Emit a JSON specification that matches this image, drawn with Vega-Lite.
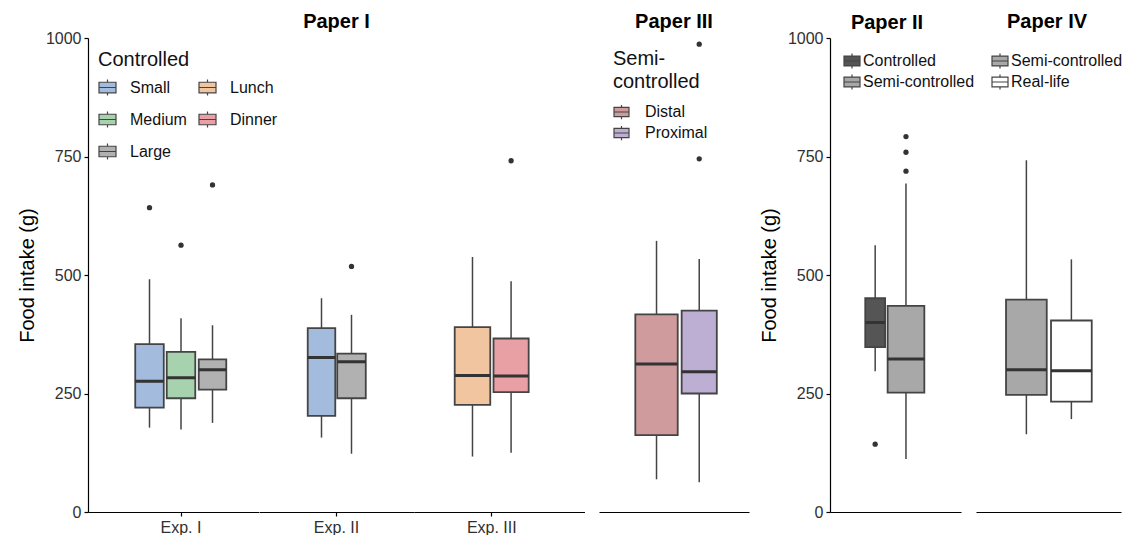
{
  "$schema": "https://vega.github.io/schema/vega-lite/v6.json",
  "padding": {"left": 17, "top": 12, "right": 0, "bottom": 0},
  "background": "white",
  "config": {
    "font": "Liberation Sans",
    "view": {"stroke": null},
    "axis": {"grid": false, "domainColor": "#000", "domainWidth": 1.2, "tickColor": "#000", "tickWidth": 1.2, "tickSize": 4, "labelFontSize": 16, "labelColor": "#303030", "labelAngle": 0, "titleFontSize": 20, "titleFontWeight": "normal", "titleColor": "#000", "labelPadding": 3},
    "legend": {"padding": 0, "labelFontSize": 16, "labelColor": "#111", "titleFontSize": 20, "titleFontWeight": "normal", "titleColor": "#111", "symbolStrokeColor": "#444", "symbolStrokeWidth": 1.2, "symbolType": "M-1,-0.62H1V0.62H-1Z M-1,0H1 M0,-0.62V-0.95 M0,0.62V0.95"},
    "title": {"fontSize": 20, "fontWeight": "bold", "color": "#000", "baseline": "alphabetic", "offset": 6, "anchor": "middle", "frame": "group"}
  },
  "datasets": {
    "boxes": [
      {"paper": "Paper I", "exp": "Exp. I", "group": "Small", "n": 29, "lower": 178, "q1": 220, "median": 276, "q3": 354, "upper": 491},
      {"paper": "Paper I", "exp": "Exp. I", "group": "Medium", "n": 29, "lower": 174, "q1": 240, "median": 283, "q3": 338, "upper": 409},
      {"paper": "Paper I", "exp": "Exp. I", "group": "Large", "n": 27, "lower": 188, "q1": 258, "median": 300, "q3": 322, "upper": 394},
      {"paper": "Paper I", "exp": "Exp. II", "group": "Small", "n": 27, "lower": 157, "q1": 203, "median": 326, "q3": 388, "upper": 451},
      {"paper": "Paper I", "exp": "Exp. II", "group": "Large", "n": 29, "lower": 123, "q1": 240, "median": 317, "q3": 334, "upper": 416},
      {"paper": "Paper I", "exp": "Exp. III", "group": "Lunch", "n": 45, "lower": 117, "q1": 226, "median": 288, "q3": 390, "upper": 538},
      {"paper": "Paper I", "exp": "Exp. III", "group": "Dinner", "n": 44, "lower": 125, "q1": 253, "median": 287, "q3": 366, "upper": 487},
      {"paper": "Paper III", "exp": "", "group": "Distal", "n": 64, "lower": 69, "q1": 162, "median": 312, "q3": 417, "upper": 572},
      {"paper": "Paper III", "exp": "", "group": "Proximal", "n": 44, "lower": 63, "q1": 250, "median": 296, "q3": 425, "upper": 534},
      {"paper": "Paper II", "exp": "", "group": "Controlled", "n": 14, "lower": 297, "q1": 348, "median": 400, "q3": 451, "upper": 563},
      {"paper": "Paper II", "exp": "", "group": "Semi-controlled", "n": 48, "lower": 112, "q1": 252, "median": 323, "q3": 435, "upper": 693},
      {"paper": "Paper IV", "exp": "", "group": "Semi-controlled", "n": 59, "lower": 164, "q1": 247, "median": 300, "q3": 448, "upper": 742},
      {"paper": "Paper IV", "exp": "", "group": "Real-life", "n": 59, "lower": 196, "q1": 233, "median": 298, "q3": 404, "upper": 533}
    ],
    "outliers": [
      {"paper": "Paper I", "exp": "Exp. I", "group": "Small", "value": 642},
      {"paper": "Paper I", "exp": "Exp. I", "group": "Medium", "value": 563},
      {"paper": "Paper I", "exp": "Exp. I", "group": "Large", "value": 690},
      {"paper": "Paper I", "exp": "Exp. II", "group": "Large", "value": 518},
      {"paper": "Paper I", "exp": "Exp. III", "group": "Dinner", "value": 741},
      {"paper": "Paper III", "exp": "", "group": "Proximal", "value": 745},
      {"paper": "Paper III", "exp": "", "group": "Proximal", "value": 987},
      {"paper": "Paper II", "exp": "", "group": "Controlled", "value": 143},
      {"paper": "Paper II", "exp": "", "group": "Semi-controlled", "value": 719},
      {"paper": "Paper II", "exp": "", "group": "Semi-controlled", "value": 759},
      {"paper": "Paper II", "exp": "", "group": "Semi-controlled", "value": 792}
    ]
  },
  "hconcat": [
    {
      "width": 170.5, "height": 474,
      "layer": [
        {"data": {"name": "boxes"}, "transform": [{"filter": "datum.exp === 'Exp. I'"}],
         "mark": {"type": "rule", "stroke": "#444", "strokeWidth": 1.5},
         "encoding": {
           "x": {"field": "exp", "type": "nominal", "title": null, "scale": {"domain": ["Exp. I"], "paddingInner": 0, "paddingOuter": 0.402, "align": 0.602}},
           "xOffset": {"field": "group", "type": "nominal", "scale": {"domain": ["Small", "Medium", "Large"], "paddingInner": 0, "paddingOuter": 0}},
           "y": {"field": "lower", "type": "quantitative", "title": "Food intake (g)", "scale": {"domain": [0, 1000], "nice": false}, "axis": {"values": [0, 250, 500, 750, 1000], "format": "d", "titlePadding": 8}},
           "y2": {"field": "upper"}}},
        {"data": {"name": "boxes"}, "transform": [{"filter": "datum.exp === 'Exp. I'"}],
         "mark": {"type": "bar", "stroke": "#444", "strokeWidth": 1.8},
         "encoding": {
           "x": {"field": "exp", "type": "nominal"},
           "xOffset": {"field": "group", "type": "nominal"},
           "y": {"field": "q1", "type": "quantitative", "title": "Food intake (g)"},
           "y2": {"field": "q3"},
           "size": {"field": "n", "type": "quantitative", "scale": {"type": "sqrt", "domain": [0, 64], "range": [0, 42.4]}, "legend": null},
           "fill": {"field": "group", "type": "nominal", "scale": {"domain": ["Small", "Medium", "Large", "Lunch", "Dinner"], "range": ["#a3bbdd", "#a6d3ae", "#b1b1b1", "#f0c5a0", "#e8a0a4"]},
             "legend": {"title": "Controlled", "orient": "none", "legendX": 10, "legendY": 12, "columns": 2, "columnPadding": 9, "rowPadding": 11, "symbolSize": 289, "labelOffset": 13, "titlePadding": 8}}}},
        {"data": {"name": "boxes"}, "transform": [{"filter": "datum.exp === 'Exp. I'"}],
         "mark": {"type": "bar", "stroke": "#333", "strokeWidth": 3, "fill": "#333"},
         "encoding": {
           "x": {"field": "exp", "type": "nominal"},
           "xOffset": {"field": "group", "type": "nominal"},
           "y": {"field": "median", "type": "quantitative", "title": "Food intake (g)"},
           "y2": {"field": "median"},
           "size": {"field": "n", "type": "quantitative"}}},
        {"data": {"name": "outliers"}, "transform": [{"filter": "datum.exp === 'Exp. I'"}],
         "mark": {"type": "point", "filled": true, "color": "#333", "size": 28, "opacity": 1},
         "encoding": {
           "x": {"field": "exp", "type": "nominal"},
           "xOffset": {"field": "group", "type": "nominal"},
           "y": {"field": "value", "type": "quantitative", "title": "Food intake (g)"}}}
      ]
    },
    {
      "width": 155, "height": 474,
      "title": {"text": "Paper I"},
      "layer": [
        {"data": {"name": "boxes"}, "transform": [{"filter": "datum.exp === 'Exp. II'"}],
         "mark": {"type": "rule", "stroke": "#444", "strokeWidth": 1.5},
         "encoding": {
           "x": {"field": "exp", "type": "nominal", "title": null, "scale": {"domain": ["Exp. II"], "paddingInner": 0, "paddingOuter": 0.7917, "align": 0.5}},
           "xOffset": {"field": "group", "type": "nominal", "scale": {"domain": ["Small", "Large"], "paddingInner": 0, "paddingOuter": 0}},
           "y": {"field": "lower", "type": "quantitative", "scale": {"domain": [0, 1000], "nice": false}, "axis": null},
           "y2": {"field": "upper"}}},
        {"data": {"name": "boxes"}, "transform": [{"filter": "datum.exp === 'Exp. II'"}],
         "mark": {"type": "bar", "stroke": "#444", "strokeWidth": 1.8},
         "encoding": {
           "x": {"field": "exp", "type": "nominal"},
           "xOffset": {"field": "group", "type": "nominal"},
           "y": {"field": "q1", "type": "quantitative", "axis": null},
           "y2": {"field": "q3"},
           "size": {"field": "n", "type": "quantitative", "legend": null},
           "fill": {"field": "group", "type": "nominal", "scale": {"domain": ["Small", "Medium", "Large", "Lunch", "Dinner"], "range": ["#a3bbdd", "#a6d3ae", "#b1b1b1", "#f0c5a0", "#e8a0a4"]}, "legend": null}}},
        {"data": {"name": "boxes"}, "transform": [{"filter": "datum.exp === 'Exp. II'"}],
         "mark": {"type": "bar", "stroke": "#333", "strokeWidth": 3, "fill": "#333"},
         "encoding": {
           "x": {"field": "exp", "type": "nominal"},
           "xOffset": {"field": "group", "type": "nominal"},
           "y": {"field": "median", "type": "quantitative", "axis": null},
           "y2": {"field": "median"},
           "size": {"field": "n", "type": "quantitative"}}},
        {"data": {"name": "outliers"}, "transform": [{"filter": "datum.exp === 'Exp. II'"}],
         "mark": {"type": "point", "filled": true, "color": "#333", "size": 28, "opacity": 1},
         "encoding": {
           "x": {"field": "exp", "type": "nominal"},
           "xOffset": {"field": "group", "type": "nominal"},
           "y": {"field": "value", "type": "quantitative", "axis": null}}}
      ]
    },
    {
      "width": 184.5, "height": 474,
      "layer": [
        {"data": {"name": "boxes"}, "transform": [{"filter": "datum.exp === 'Exp. III'"}],
         "mark": {"type": "rule", "stroke": "#444", "strokeWidth": 1.5},
         "encoding": {
           "x": {"field": "exp", "type": "nominal", "title": null, "scale": {"domain": ["Exp. III"], "range": [0, 170.5], "paddingInner": 0, "paddingOuter": 0.6042, "align": 0.42}},
           "xOffset": {"field": "group", "type": "nominal", "scale": {"domain": ["Lunch", "Dinner"], "paddingInner": 0, "paddingOuter": 0}},
           "y": {"field": "lower", "type": "quantitative", "scale": {"domain": [0, 1000], "nice": false}, "axis": null},
           "y2": {"field": "upper"}}},
        {"data": {"name": "boxes"}, "transform": [{"filter": "datum.exp === 'Exp. III'"}],
         "mark": {"type": "bar", "stroke": "#444", "strokeWidth": 1.8},
         "encoding": {
           "x": {"field": "exp", "type": "nominal"},
           "xOffset": {"field": "group", "type": "nominal"},
           "y": {"field": "q1", "type": "quantitative", "axis": null},
           "y2": {"field": "q3"},
           "size": {"field": "n", "type": "quantitative", "legend": null},
           "fill": {"field": "group", "type": "nominal", "scale": {"domain": ["Small", "Medium", "Large", "Lunch", "Dinner"], "range": ["#a3bbdd", "#a6d3ae", "#b1b1b1", "#f0c5a0", "#e8a0a4"]}, "legend": null}}},
        {"data": {"name": "boxes"}, "transform": [{"filter": "datum.exp === 'Exp. III'"}],
         "mark": {"type": "bar", "stroke": "#333", "strokeWidth": 3, "fill": "#333"},
         "encoding": {
           "x": {"field": "exp", "type": "nominal"},
           "xOffset": {"field": "group", "type": "nominal"},
           "y": {"field": "median", "type": "quantitative", "axis": null},
           "y2": {"field": "median"},
           "size": {"field": "n", "type": "quantitative"}}},
        {"data": {"name": "outliers"}, "transform": [{"filter": "datum.exp === 'Exp. III'"}],
         "mark": {"type": "point", "filled": true, "color": "#333", "size": 28, "opacity": 1},
         "encoding": {
           "x": {"field": "exp", "type": "nominal"},
           "xOffset": {"field": "group", "type": "nominal"},
           "y": {"field": "value", "type": "quantitative", "axis": null}}}
      ]
    },
    {
      "width": 231, "height": 474,
      "title": {"text": "Paper III", "dx": -40.5},
      "layer": [
        {"data": {"name": "boxes"}, "transform": [{"filter": "datum.paper === 'Paper III'"}],
         "mark": {"type": "rule", "stroke": "#444", "strokeWidth": 1.5},
         "encoding": {
           "x": {"field": "paper", "type": "nominal", "title": null, "scale": {"domain": ["Paper III"], "range": [0, 150], "paddingInner": 0, "paddingOuter": 0.378, "align": 0.56}, "axis": {"labels": false, "ticks": false}},
           "xOffset": {"field": "group", "type": "nominal", "scale": {"domain": ["Distal", "Proximal"], "paddingInner": 0, "paddingOuter": 0}},
           "y": {"field": "lower", "type": "quantitative", "scale": {"domain": [0, 1000], "nice": false}, "axis": null},
           "y2": {"field": "upper"}}},
        {"data": {"name": "boxes"}, "transform": [{"filter": "datum.paper === 'Paper III'"}],
         "mark": {"type": "bar", "stroke": "#444", "strokeWidth": 1.8},
         "encoding": {
           "x": {"field": "paper", "type": "nominal"},
           "xOffset": {"field": "group", "type": "nominal"},
           "y": {"field": "q1", "type": "quantitative", "axis": null},
           "y2": {"field": "q3"},
           "size": {"field": "n", "type": "quantitative", "legend": null},
           "fill": {"field": "group", "type": "nominal", "scale": {"domain": ["Distal", "Proximal"], "range": ["#d09b9c", "#bdaed3"]},
             "legend": {"title": ["Semi-", "controlled"], "orient": "none", "legendX": 14, "legendY": 10.5, "titleLineHeight": 23, "titlePadding": 12, "rowPadding": 0, "symbolSize": 225, "labelOffset": 15}}}},
        {"data": {"name": "boxes"}, "transform": [{"filter": "datum.paper === 'Paper III'"}],
         "mark": {"type": "bar", "stroke": "#333", "strokeWidth": 3, "fill": "#333"},
         "encoding": {
           "x": {"field": "paper", "type": "nominal"},
           "xOffset": {"field": "group", "type": "nominal"},
           "y": {"field": "median", "type": "quantitative", "axis": null},
           "y2": {"field": "median"},
           "size": {"field": "n", "type": "quantitative"}}},
        {"data": {"name": "outliers"}, "transform": [{"filter": "datum.paper === 'Paper III'"}],
         "mark": {"type": "point", "filled": true, "color": "#333", "size": 28, "opacity": 1},
         "encoding": {
           "x": {"field": "paper", "type": "nominal"},
           "xOffset": {"field": "group", "type": "nominal"},
           "y": {"field": "value", "type": "quantitative", "axis": null}}}
      ]
    },
    {
      "width": 146, "height": 474,
      "title": {"text": "Paper II", "dx": -16, "offset": -3},
      "layer": [
        {"data": {"name": "boxes"}, "transform": [{"filter": "datum.paper === 'Paper II'"}],
         "mark": {"type": "rule", "stroke": "#444", "strokeWidth": 1.5},
         "encoding": {
           "x": {"field": "paper", "type": "nominal", "title": null, "scale": {"domain": ["Paper II"], "range": [0, 131], "paddingInner": 0, "paddingOuter": 0.563, "align": 0.429}, "axis": {"labels": false, "ticks": false}},
           "xOffset": {"field": "group", "type": "nominal", "scale": {"domain": ["Controlled", "Semi-controlled"], "paddingInner": 0, "paddingOuter": 0}},
           "y": {"field": "lower", "type": "quantitative", "title": "Food intake (g)", "scale": {"domain": [0, 1000], "nice": false}, "axis": {"values": [0, 250, 500, 750, 1000], "format": "d", "titlePadding": 8}},
           "y2": {"field": "upper"}}},
        {"data": {"name": "boxes"}, "transform": [{"filter": "datum.paper === 'Paper II'"}],
         "mark": {"type": "bar", "stroke": "#444", "strokeWidth": 1.8},
         "encoding": {
           "x": {"field": "paper", "type": "nominal"},
           "xOffset": {"field": "group", "type": "nominal"},
           "y": {"field": "q1", "type": "quantitative", "title": "Food intake (g)"},
           "y2": {"field": "q3"},
           "size": {"field": "n", "type": "quantitative", "legend": null},
           "fill": {"field": "group", "type": "nominal", "scale": {"domain": ["Controlled", "Semi-controlled"], "range": ["#555555", "#a8a8a8"]},
             "legend": {"title": null, "orient": "none", "legendX": 13, "legendY": 14, "rowPadding": 1, "symbolSize": 256, "labelOffset": 2}}}},
        {"data": {"name": "boxes"}, "transform": [{"filter": "datum.paper === 'Paper II'"}],
         "mark": {"type": "bar", "stroke": "#333", "strokeWidth": 3, "fill": "#333"},
         "encoding": {
           "x": {"field": "paper", "type": "nominal"},
           "xOffset": {"field": "group", "type": "nominal"},
           "y": {"field": "median", "type": "quantitative", "title": "Food intake (g)"},
           "y2": {"field": "median"},
           "size": {"field": "n", "type": "quantitative"}}},
        {"data": {"name": "outliers"}, "transform": [{"filter": "datum.paper === 'Paper II'"}],
         "mark": {"type": "point", "filled": true, "color": "#333", "size": 28, "opacity": 1},
         "encoding": {
           "x": {"field": "paper", "type": "nominal"},
           "xOffset": {"field": "group", "type": "nominal"},
           "y": {"field": "value", "type": "quantitative", "title": "Food intake (g)"}}}
      ]
    },
    {
      "width": 145, "height": 474,
      "title": {"text": "Paper IV", "dx": -1.5},
      "layer": [
        {"data": {"name": "boxes"}, "transform": [{"filter": "datum.paper === 'Paper IV'"}],
         "mark": {"type": "rule", "stroke": "#444", "strokeWidth": 1.5},
         "encoding": {
           "x": {"field": "paper", "type": "nominal", "title": null, "scale": {"domain": ["Paper IV"], "paddingInner": 0, "paddingOuter": 0.3056, "align": 0.507}, "axis": {"labels": false, "ticks": false}},
           "xOffset": {"field": "group", "type": "nominal", "scale": {"domain": ["Semi-controlled", "Real-life"], "paddingInner": 0, "paddingOuter": 0}},
           "y": {"field": "lower", "type": "quantitative", "scale": {"domain": [0, 1000], "nice": false}, "axis": null},
           "y2": {"field": "upper"}}},
        {"data": {"name": "boxes"}, "transform": [{"filter": "datum.paper === 'Paper IV'"}],
         "mark": {"type": "bar", "stroke": "#444", "strokeWidth": 1.8},
         "encoding": {
           "x": {"field": "paper", "type": "nominal"},
           "xOffset": {"field": "group", "type": "nominal"},
           "y": {"field": "q1", "type": "quantitative", "axis": null},
           "y2": {"field": "q3"},
           "size": {"field": "n", "type": "quantitative", "legend": null},
           "fill": {"field": "group", "type": "nominal", "scale": {"domain": ["Semi-controlled", "Real-life"], "range": ["#a8a8a8", "#ffffff"]},
             "legend": {"title": null, "orient": "none", "legendX": 15, "legendY": 14, "rowPadding": 1, "symbolSize": 256, "labelOffset": 2}}}},
        {"data": {"name": "boxes"}, "transform": [{"filter": "datum.paper === 'Paper IV'"}],
         "mark": {"type": "bar", "stroke": "#333", "strokeWidth": 3, "fill": "#333"},
         "encoding": {
           "x": {"field": "paper", "type": "nominal"},
           "xOffset": {"field": "group", "type": "nominal"},
           "y": {"field": "median", "type": "quantitative", "axis": null},
           "y2": {"field": "median"},
           "size": {"field": "n", "type": "quantitative"}}},
        {"data": {"name": "outliers"}, "transform": [{"filter": "datum.paper === 'Paper IV'"}],
         "mark": {"type": "point", "filled": true, "color": "#333", "size": 28, "opacity": 1},
         "encoding": {
           "x": {"field": "paper", "type": "nominal"},
           "xOffset": {"field": "group", "type": "nominal"},
           "y": {"field": "value", "type": "quantitative", "axis": null}}}
      ]
    }
  ],
  "spacing": 0,
  "bounds": "flush",
  "resolve": {
    "scale": {"x": "independent", "xOffset": "independent", "y": "independent", "fill": "independent"},
    "legend": {"fill": "independent"}
  }
}
